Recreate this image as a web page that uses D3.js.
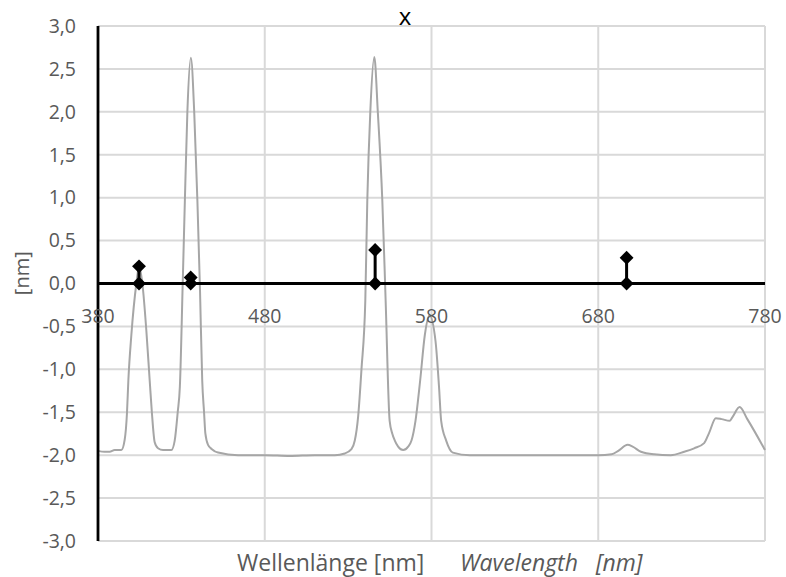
<!DOCTYPE html>
<meta charset="utf-8">
<style>
body { margin: 0; background: #fff; }
svg { font-family: "Open Sans", sans-serif; }
.grid line { stroke: #d9d9d9; stroke-width: 2; }
.tick-label { fill: #595959; font-size: 19.5px; }
</style>
<body>
<script src="https://cdn.jsdelivr.net/npm/d3@7"></script>
<script>

// spectrum (wavelength in nm, value in nm)
var wavelength = [380, 384, 387, 390, 394, 396, 397.4, 398.2, 400, 403, 404.6, 406.6, 409, 411, 412.3, 414,
  416, 419, 424, 426, 427.8, 429.1, 430.8, 432.1, 433.6, 435.7, 437.7, 439.6, 441.2, 442.5, 443.6, 444.4,
  446, 448.3, 452, 464, 480, 495, 510, 522, 528, 532, 534, 536, 538, 540.3, 541.5, 543.3, 545.7, 547.8,
  550.5, 552.5, 554.9, 556.5, 558, 560, 563, 566, 568, 570.4, 573.2, 576, 578.8, 582.4, 584.5, 585.8,
  588.8, 592.8, 603, 630, 660, 680, 688, 692, 697.6, 700.6, 705.6, 713.5, 723.5, 731.5, 737.5, 743.5,
  746.5, 750.5, 754, 758.8, 760.4, 764.8, 769.4, 780];
var spectrum = [-1.95, -1.96, -1.96, -1.94, -1.94, -1.82, -1.5, -1.13, -0.6, 0.0, 0.2, 0.0, -0.55, -1.13, -1.5, -1.85,
  -1.92, -1.94, -1.94, -1.83, -1.5, -1.2, 0.0, 0.97, 2.0, 2.63, 2.0, 0.97, -0.1, -1.13, -1.5, -1.75,
  -1.88, -1.93, -1.97, -2.0, -2.0, -2.01, -2.0, -2.0, -1.98, -1.93, -1.83, -1.55, -1.0, -0.2, 0.97, 2.0, 2.64, 2.0,
  0.97, -0.2, -1.6, -1.75, -1.83, -1.9, -1.94, -1.9, -1.83, -1.6, -1.13, -0.6, -0.37, -0.67, -1.2, -1.6,
  -1.83, -1.97, -2.0, -2.0, -2.0, -2.0, -1.99, -1.95, -1.88, -1.9, -1.96, -1.99, -2.0, -1.96, -1.92, -1.86,
  -1.74, -1.57, -1.58, -1.6, -1.56, -1.44, -1.58, -1.94];

// marker pairs (value and zero line)
var markerNm = [404.6, 435.6, 546.2, 697];
var markerVal = [0.2, 0.07, 0.39, 0.3];

var xTicks = [380, 480, 580, 680, 780];
var yTicks = [-3, -2.5, -2, -1.5, -1, -0.5, 0, 0.5, 1, 1.5, 2, 2.5, 3];

var chartTitle = "x";
var yTitle = "[nm]";
var xTitleDe = "Wellenlänge [nm]";
var xTitleEn = "Wavelength\u00a0\u00a0 [nm]";

var W = 786, H = 577;
var margin = {top: 26, right: 21, bottom: 36, left: 98};

var x = d3.scaleLinear().domain([380, 780]).range([margin.left, W - margin.right]);
var y = d3.scaleLinear().domain([-3, 3]).range([H - margin.bottom, margin.top]);

var svg = d3.select("body").append("svg")
    .attr("width", W)
    .attr("height", H);

// gridlines
var grid = svg.append("g").attr("class", "grid");
grid.selectAll(".hg").data(yTicks).enter().append("line")
    .attr("x1", x(380)).attr("x2", x(780))
    .attr("y1", function(d) { return y(d); })
    .attr("y2", function(d) { return y(d); });
grid.selectAll(".vg").data(xTicks.slice(1)).enter().append("line")
    .attr("y1", y(3)).attr("y2", y(-3))
    .attr("x1", function(d) { return x(d); })
    .attr("x2", function(d) { return x(d); });

// spectrum
var pts = wavelength.map(function(d, i) { return [d, spectrum[i]]; });
var line = d3.line()
    .x(function(d) { return x(d[0]); })
    .y(function(d) { return y(d[1]); })
    .curve(d3.curveMonotoneX);

svg.append("path")
    .datum(pts)
    .attr("d", line)
    .attr("fill", "none")
    .attr("stroke", "#a6a6a6")
    .attr("stroke-width", 2);

// axes lines
svg.append("line")
    .attr("x1", x(380)).attr("x2", x(780))
    .attr("y1", y(0)).attr("y2", y(0))
    .attr("stroke", "#000").attr("stroke-width", 2.8);
svg.append("line")
    .attr("x1", x(380)).attr("x2", x(380))
    .attr("y1", y(3)).attr("y2", y(-3))
    .attr("stroke", "#000").attr("stroke-width", 2.8);

// tick labels
svg.selectAll(".ylab").data(yTicks).enter().append("text")
    .attr("class", "tick-label")
    .attr("x", x(380) - 22)
    .attr("y", function(d) { return y(d); })
    .attr("dy", "0.35em")
    .attr("text-anchor", "end")
    .text(function(d) { return d3.format(".1f")(d).replace(".", ",").replace("\u2212", "-"); });

svg.selectAll(".xlab").data(xTicks).enter().append("text")
    .attr("class", "tick-label")
    .attr("x", function(d) { return x(d); })
    .attr("y", y(0) + 39)
    .attr("text-anchor", "middle")
    .text(function(d) { return d; });

// drop lines and diamonds
var markers = svg.append("g");
markerNm.forEach(function(d, i) {
    markers.append("line")
        .attr("x1", x(d)).attr("x2", x(d))
        .attr("y1", y(0)).attr("y2", y(markerVal[i]))
        .attr("stroke", "#000").attr("stroke-width", 3);
    [0, markerVal[i]].forEach(function(v) {
        markers.append("path")
            .attr("d", d3.symbol().type(d3.symbolSquare).size(96)())
            .attr("transform", "translate(" + x(d) + "," + y(v) + ") rotate(45)")
            .attr("fill", "#000");
    });
});

// titles
svg.append("text")
    .attr("x", 405).attr("y", 25)
    .attr("text-anchor", "middle")
    .style("font-size", "24px")
    .attr("fill", "#000")
    .text(chartTitle);

svg.append("text")
    .attr("transform", "translate(29," + y(0.12) + ") rotate(-90)")
    .attr("text-anchor", "middle")
    .style("font-size", "20px")
    .attr("fill", "#595959")
    .text(yTitle);

svg.append("text")
    .attr("x", 237).attr("y", 571)
    .style("font-size", "23px")
    .attr("fill", "#595959")
    .text(xTitleDe);
svg.append("text")
    .attr("x", 460).attr("y", 571)
    .style("font-size", "23px")
    .style("font-style", "italic")
    .attr("fill", "#595959")
    .text(xTitleEn);

</script>
</body>
